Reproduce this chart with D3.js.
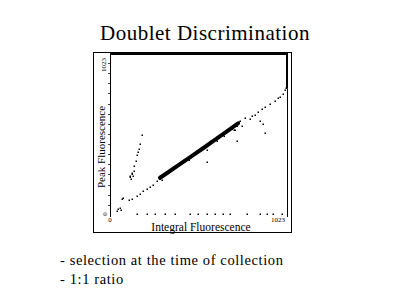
<!DOCTYPE html>
<html>
<head>
<meta charset="utf-8">
<script src="https://cdn.jsdelivr.net/npm/d3@7/dist/d3.min.js"></script>
<style>
  body { margin: 0; background: #fff; }
</style>
</head>
<body>
<div id="canvas"></div>
<script>
// channel values (0..1023)
const bandX = [289, 330, 400, 470, 540, 610, 680, 740];
const bandY = [235, 265, 318, 370, 423, 477, 532, 578];

const lowX = [39, 48, 58, 64, 71, 77, 110, 125, 154, 173, 192, 212, 231, 250, 270, 289];
const lowY = [25, 36, 46, 32, 99, 106, 93, 104, 121, 131, 152, 167, 178, 191, 216, 227];

const doubletX = [116, 118, 121, 125, 127, 135, 139, 140, 150, 154, 164, 169, 173, 183];
const doubletY = [237, 245, 229, 259, 267, 248, 280, 311, 343, 379, 396, 417, 449, 508];

const upperX = [751, 780, 809, 821, 838, 855, 879, 896, 925, 954, 971, 983, 1002, 1011, 1017];
const upperY = [591, 610, 608, 623, 629, 650, 667, 682, 703, 720, 737, 745, 767, 792, 800];

const fuzzX = [300, 318, 345, 372, 430, 455, 505, 560, 585, 640, 700, 715, 745, 735];
const fuzzY = [222, 262, 270, 300, 350, 345, 405, 410, 465, 507, 545, 535, 590, 560];

const outX = [886, 896, 723, 732, 559, 705, 682, 763, 867, 620, 660];
const outY = [576, 519, 534, 470, 332, 546, 534, 559, 591, 470, 500];

const floorX = [154, 212, 260, 318, 376, 462, 510, 559, 607, 655, 694, 790, 867, 905, 944, 992];
const floorY = [5, 5, 5, 5, 5, 5, 5, 5, 5, 5, 5, 5, 5, 5, 5, 5];

const axisMin = "0";
const axisMax = "1023";

const w = 400;
const h = 300;
const plot = { left: 110, right: 287, top: 53, bottom: 215 };
const serif = "'Liberation Serif', 'Times New Roman', Times, serif";

let svg = d3.select("#canvas")
            .append("svg")
            .attr("width", w)
            .attr("height", h)
            .attr("font-family", serif);

svg.append("text")
   .attr("x", 205)
   .attr("y", 40)
   .attr("text-anchor", "middle")
   .attr("font-size", 21)
   .attr("letter-spacing", 0.5)
   .text("Doublet Discrimination");

// outer box
svg.append("rect")
   .attr("x", 93.5)
   .attr("y", 52.5)
   .attr("width", 198)
   .attr("height", 180)
   .attr("fill", "none")
   .attr("stroke", "#000")
   .attr("stroke-width", 1);

const x = d3.scaleLinear().domain([0, 1023]).range([plot.left, plot.right]);
const y = d3.scaleLinear().domain([0, 1023]).range([plot.bottom, plot.top]);

let chart = svg.append("g");

// frame: thin left axis, thick top edge, thick upper right edge
chart.append("line")
     .attr("x1", x(0) + 0.5).attr("x2", x(0) + 0.5)
     .attr("y1", y(1023)).attr("y2", y(0) + 2)
     .attr("stroke", "#000");
chart.append("line")
     .attr("x1", x(0)).attr("x2", x(1023) + 1)
     .attr("y1", y(1023) + 1).attr("y2", y(1023) + 1)
     .attr("stroke", "#000").attr("stroke-width", 2);
chart.append("line")
     .attr("x1", x(1023)).attr("x2", x(1023))
     .attr("y1", y(1023)).attr("y2", y(800))
     .attr("stroke", "#000").attr("stroke-width", 2);
chart.append("line")
     .attr("x1", x(1023) + 0.5).attr("x2", x(1023) + 0.5)
     .attr("y1", y(800)).attr("y2", y(0) + 2)
     .attr("stroke", "#000").attr("stroke-width", 1);

// minor ticks on the left axis
chart.append("g")
     .selectAll("line")
     .data(d3.range(64, 1023, 64))
     .enter()
       .append("line")
       .attr("x1", x(0) - 2).attr("x2", x(0))
       .attr("y1", d => Math.round(y(d)) + 0.5)
       .attr("y2", d => Math.round(y(d)) + 0.5)
       .attr("stroke", "#444");

// tick labels
svg.append("text")
   .attr("x", x(0))
   .attr("y", y(0) + 7)
   .attr("text-anchor", "middle")
   .attr("font-size", 7)
   .text(axisMin);
svg.append("text")
   .attr("x", x(1023) - 2)
   .attr("y", y(0) + 7)
   .attr("text-anchor", "end")
   .attr("font-size", 7)
   .text(axisMax);
svg.append("text")
   .attr("transform", "translate(" + (x(0) - 3) + "," + (y(0) - 1) + ") rotate(-90)")
   .attr("text-anchor", "middle")
   .attr("font-size", 7)
   .text(axisMin);
svg.append("text")
   .attr("transform", "translate(" + (x(0) - 4) + "," + (y(1023) + 12) + ") rotate(-90)")
   .attr("text-anchor", "middle")
   .attr("font-size", 7)
   .text(axisMax);

// axis titles
svg.append("text")
   .attr("x", 201)
   .attr("y", 231)
   .attr("text-anchor", "middle")
   .attr("font-size", 11.5)
   .text("Integral Fluorescence");
svg.append("text")
   .attr("transform", "translate(105,147) rotate(-90)")
   .attr("text-anchor", "middle")
   .attr("font-size", 11)
   .text("Peak Fluorescence");

// dense singlet population
const line = d3.line()
               .x((d, i) => x(bandX[i]))
               .y((d, i) => y(bandY[i]));
chart.append("path")
     .attr("d", line(bandX))
     .attr("fill", "none")
     .attr("stroke", "#000")
     .attr("stroke-width", 4)
     .attr("stroke-linecap", "round");

function dots(xs, ys) {
  chart.append("g")
       .selectAll("rect")
       .data(xs)
       .enter()
         .append("rect")
         .attr("x", (d, i) => Math.round(x(xs[i])) - 0.5)
         .attr("y", (d, i) => Math.round(y(ys[i])) - 0.5)
         .attr("width", 1.5)
         .attr("height", 1.5)
         .attr("fill", "#000");
}

dots(lowX, lowY);
dots(doubletX, doubletY);
dots(upperX, upperY);
dots(fuzzX, fuzzY);
dots(outX, outY);
dots(floorX, floorY);

// notes
svg.append("text")
   .attr("x", 60)
   .attr("y", 265)
   .attr("font-size", 14.5)
   .attr("letter-spacing", 0.6)
   .text("- selection at the time of collection");
svg.append("text")
   .attr("x", 60)
   .attr("y", 284)
   .attr("font-size", 14.5)
   .attr("letter-spacing", 0.6)
   .text("- 1:1 ratio");
</script>
</body>
</html>
